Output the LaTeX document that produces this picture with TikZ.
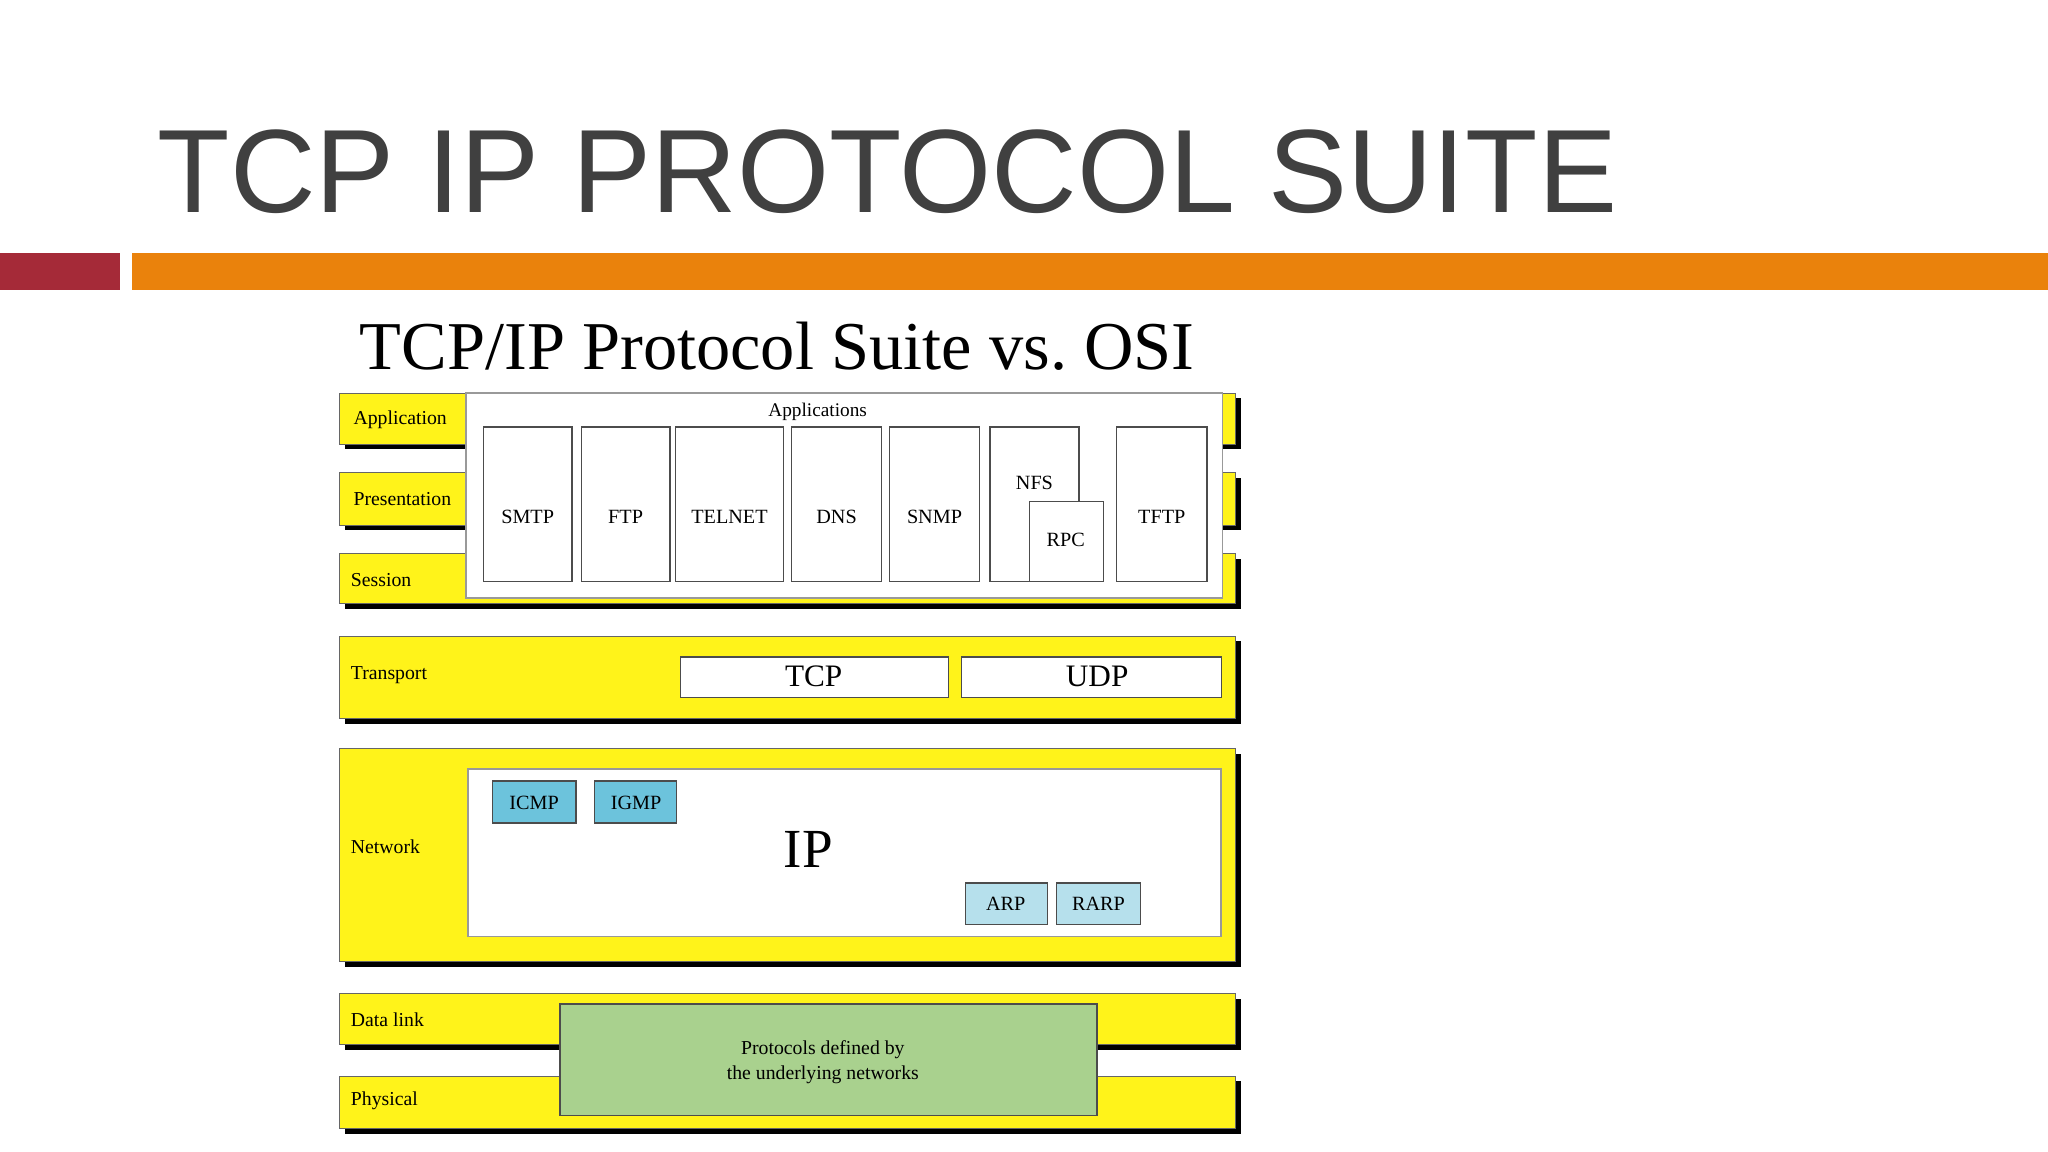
\documentclass[tikz,border=0pt]{standalone}
\usepackage{fontspec}
\setmainfont{Liberation Serif}
\newfontfamily\titlefont{Liberation Sans}
\definecolor{icmpc}{HTML}{6CC3DC}
\definecolor{arpc}{HTML}{B6E0EC}
\definecolor{orng}{HTML}{EA820C}
\definecolor{redb}{HTML}{A52A38}
\definecolor{grn}{HTML}{A9D18E}
\begin{document}
\begin{tikzpicture}[x=0.01cm,y=-0.01cm,
  band/.style={fill=yellow!90!white, draw=black!60, line width=0.2pt},
  shadow/.style={fill=black},
  appbox/.style={draw=black!70, fill=white, line width=0.3pt},
  lbl/.style={font=\fontsize{4.3}{5}\selectfont, anchor=west, inner sep=0pt},
  blue1/.style={draw=black!70, fill=icmpc, line width=0.3pt},
  blue2/.style={draw=black!70, fill=arpc, line width=0.3pt}]
\useasboundingbox (0,0) rectangle (1568,882);
\fill[white] (0,0) rectangle (1568,882);
\node[anchor=base west, inner sep=0pt, text=black!75, font=\titlefont\fontsize{25.8}{30}\selectfont] (title) at (120,163) {TCP IP PROTOCOL SUITE};
\fill[redb] (0,194) rectangle (92,222);
\fill[orng] (101,194) rectangle (1568,222);
\node[anchor=base, inner sep=0pt, font=\fontsize{14.9}{18}\selectfont] (sub) at (595,283) {TCP/IP Protocol Suite vs.\ OSI};
% bands with shadows
\foreach \ya/\yb in {301/340,362/402,424/462,487/550,573/736,761/800,824/864}{
  \fill[shadow] (264,\ya+4) rectangle (950,\yb+4);
  \filldraw[band] (260,\ya) rectangle (946,\yb);
}
\node[lbl] (lapp) at (270,321) {Application};
\node[lbl] (lpre) at (270,382) {Presentation};
\node[lbl] (lses) at (268,444) {Session};
\node[lbl] (ltra) at (268,517) {Transport};
\node[lbl] (lnet) at (268,648) {Network};
\node[lbl] (ldl) at (268,781) {Data link};
\node[lbl] (lph) at (268,843) {Physical};
% applications
\filldraw[draw=black!40, fill=white, line width=0.4pt] (357,301) rectangle (936,458);
\node[inner sep=0pt, font=\fontsize{4.2}{5}\selectfont] (apps) at (626,315) {Applications};
\foreach \xa/\xb/\t/\n in {370/438/SMTP/smtp,445/513/FTP/ftp,517/600/TELNET/tel,606/675/DNS/dns,681/750/SNMP/snmp,855/924/TFTP/tftp}{
  \filldraw[appbox] (\xa,327) rectangle (\xb,445);
  \node[font=\fontsize{4.4}{5}\selectfont, inner sep=0pt] (\n) at ({(\xa+\xb)/2},396) {\t};
}
\filldraw[appbox] (758,327) rectangle (826,445);
\node[font=\fontsize{4.4}{5}\selectfont, inner sep=0pt] (nfs) at (792,370) {NFS};
\filldraw[appbox] (788,384) rectangle (845,445);
\node[font=\fontsize{4.4}{5}\selectfont, inner sep=0pt] (rpc) at (816,413) {RPC};
% transport
\filldraw[appbox] (521,503) rectangle (726,534);
\node[font=\fontsize{6.8}{7}\selectfont, inner sep=0pt] (tcp) at (623,518) {TCP};
\filldraw[appbox] (736,503) rectangle (935,534);
\node[font=\fontsize{6.8}{7}\selectfont, inner sep=0pt] (udp) at (840,518) {UDP};
% network
\filldraw[draw=black!40, fill=white, line width=0.4pt] (358,589) rectangle (935,717);
\node[font=\fontsize{12}{13}\selectfont, inner sep=0pt] (ip) at (619,650) {IP};
\filldraw[blue1] (377,598) rectangle (441,630);
\node[font=\fontsize{4.4}{5}\selectfont, inner sep=0pt] (icmp) at (409,615) {ICMP};
\filldraw[blue1] (455,598) rectangle (518,630);
\node[font=\fontsize{4.4}{5}\selectfont, inner sep=0pt] (igmp) at (487,615) {IGMP};
\filldraw[blue2] (739,676) rectangle (802,708);
\node[font=\fontsize{4.4}{5}\selectfont, inner sep=0pt] (arp) at (770,692) {ARP};
\filldraw[blue2] (809,676) rectangle (873,708);
\node[font=\fontsize{4.4}{5}\selectfont, inner sep=0pt] (rarp) at (841,692) {RARP};
% data link / physical
\filldraw[draw=black!70, fill=grn, line width=0.4pt] (429,769) rectangle (840,854);
\node[font=\fontsize{4.3}{5.4}\selectfont, align=center, inner sep=0pt] (under) at (630,813) {Protocols defined by\\the underlying networks};
\end{tikzpicture}
\end{document}
